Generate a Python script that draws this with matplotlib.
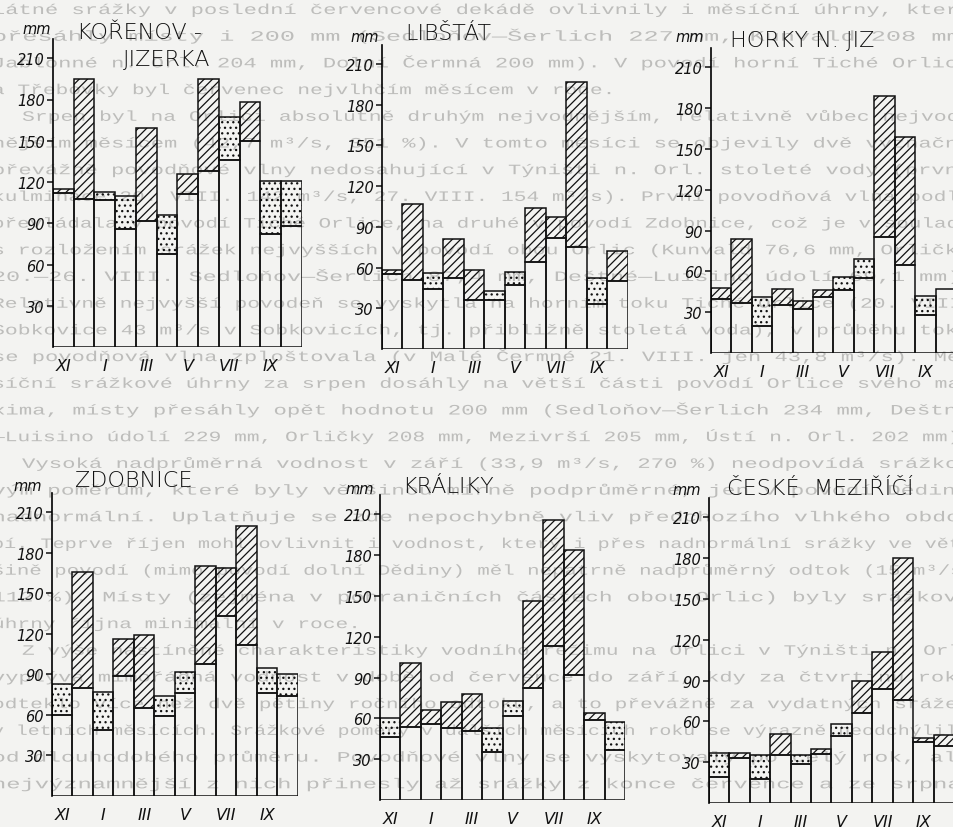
import matplotlib
matplotlib.use("Agg")
import matplotlib.pyplot as plt
from matplotlib.textpath import TextPath
from matplotlib.patches import PathPatch
from matplotlib.font_manager import FontProperties
from matplotlib.transforms import Affine2D

W, H = 954, 828

# monthly totals (mm), hydrological year XI..X
months = ["XI", "XII", "I", "II", "III", "IV", "V", "VI", "VII", "VIII", "IX", "X"]
shown_months = ["XI", "I", "III", "V", "VII", "IX"]

koren_normal = [112, 108, 113, 110, 92, 96, 111, 128, 167, 150, 121, 121]
koren_actual = [115, 195, 107, 86, 159, 68, 126, 195, 136, 178, 82, 88]

libstat_normal = [55, 51, 56, 52, 36, 43, 57, 64, 82, 75, 52, 50]
libstat_actual = [58, 107, 44, 81, 58, 36, 47, 104, 97, 197, 33, 72]

horky_normal = [40, 37, 41, 35, 32, 41, 56, 69, 85, 65, 42, 47]
horky_actual = [48, 84, 20, 47, 38, 46, 46, 55, 189, 159, 28, 47]

zdob_normal = [83, 80, 77, 89, 65, 74, 92, 98, 133, 112, 95, 90]
zdob_actual = [60, 166, 49, 116, 119, 59, 76, 170, 169, 200, 76, 74]

kral_normal = [60, 54, 56, 53, 51, 53, 73, 82, 113, 92, 59, 57]
kral_actual = [46, 101, 66, 72, 78, 35, 62, 146, 206, 184, 64, 37]

ceske_normal = [37, 33, 35, 35, 35, 36, 58, 66, 84, 76, 45, 42]
ceske_actual = [19, 37, 18, 51, 29, 40, 49, 90, 111, 180, 48, 50]

yticks = [30, 60, 90, 120, 150, 180, 210]

# page text showing through from the other side of the sheet
page_lines = [
    "látné srážky v poslední červencové dekádě ovlivnily i měsíční úhrny, které",
    "přesáhly místy i 200 mm (Sedloňov—Šerlich 227 mm, Kunvald 208 mm,",
    "Jablonné n. Orl. 204 mm, Dolní Čermná 200 mm). V povodí horní Tiché Orlice",
    "a Třebovky byl červenec nejvlhčím měsícem v roce.",
    "   Srpen byl na Orlici absolutně druhým nejvodnějším, relativně vůbec nejvod-",
    "nějším měsícem (42,7 m³/s, 351 %). V tomto měsíci se objevily dvě význačné",
    "převážně povodňové vlny nedosahující v Týništi n. Orl. stoleté vody (první",
    "kulminace 20. VIII. 142 m³/s, 27. VIII. 154 m³/s). První povodňová vlna podle",
    "převládala v povodí Tiché Orlice, na druhé v povodí Zdobnice, což je v souladu",
    "s rozložením srážek nejvyšších v povodí obou Orlic (Kunvald 76,6 mm, Orličky",
    "20.—26. VIII. Sedloňov—Šerlich 87,4 mm, Deštné—Luisino údolí 69,1 mm).",
    "Relativně nejvyšší povodeň se vyskytla na horním toku Tiché Orlice (20. VIII.",
    "Sobkovice 43 m³/s v Sobkovicích, tj. přibližně stoletá voda), v průběhu toku",
    "se povodňová vlna zploštovala (v Malé Čermné 21. VIII. jen 43,8 m³/s). Mě-",
    "síční srážkové úhrny za srpen dosáhly na větší části povodí Orlice svého ma-",
    "xima, místy přesáhly opět hodnotu 200 mm (Sedloňov—Šerlich 234 mm, Deštné",
    "—Luisino údolí 229 mm, Orličky 208 mm, Mezivrší 205 mm, Ústí n. Orl. 202 mm).",
    "   Vysoká nadprůměrná vodnost v září (33,9 m³/s, 270 %) neodpovídá srážko-",
    "vým poměrům, které byly většinou mírně podprůměrné, jen v povodí Dědiny",
    "nadnormální. Uplatňuje se zde nepochybně vliv předchozího vlhkého obdo-",
    "bí. Teprve říjen mohl ovlivnit i vodnost, který i přes nadnormální srážky ve vět-",
    "šině povodí (mimo povodí dolní Dědiny) měl nepatrně nadprůměrný odtok (15 m³/s,",
    "112 %). Místy (zejména v pohraničních částech obou Orlic) byly srážkové",
    "úhrny října minimální v roce.",
    "   Z výše nastíněné charakteristiky vodního režimu na Orlici v Týništi n. Orl.",
    "vyplývá mimořádná vodnost v době od července do září, kdy za čtvrtinu roku",
    "odteklo více než dvě pětiny ročního odtoku, a to převážně za vydatných srážek",
    "v letních měsících. Srážkové poměry v dalších měsících roku se výrazně neodchýlily",
    "od dlouhodobého průměru. Povodňové vlny se vyskytovaly po celý rok, ale",
    "nejvýznamnější z nich přinesly až srážky z konce července a ze srpna.",
]
short_lines = {3, 23}

fig = plt.figure(figsize=(W / 100, H / 100), dpi=100, facecolor="#f3f3f1")

# background sheet with the faint text
bg = fig.add_axes([0, 0, 1, 1], zorder=-5)
bg.set_xlim(0, W)
bg.set_ylim(0, H)
bg.axis("off")
fp = FontProperties(family="Liberation Mono")
left, right = -8, 968
for i, line in enumerate(page_lines):
    indent = 0
    if line.startswith("   "):
        indent = 30
        line = line.strip()
    tp = TextPath((0, 0), line, size=20, prop=fp)
    w = tp.get_extents().width
    sx = 1.06 if i in short_lines else (right - left - indent) / w
    y = H - (10 + 26.7 * i + 5)
    tr = Affine2D().scale(sx, 0.72).translate(left + indent, y) + bg.transData
    bg.add_patch(PathPatch(tp, transform=tr, facecolor="#bdbdbb", edgecolor="none"))


def station(x0, x1, base, scale, normal, actual):
    ax = fig.add_axes([x0 / W, 1 - base / H, (x1 - x0) / W, 224 * scale / H])
    ax.set_xlim(0, 12)
    ax.set_ylim(0, 224)
    ax.patch.set_visible(False)
    for s in ["top", "right", "bottom"]:
        ax.spines[s].set_visible(False)
    ax.spines["left"].set_linewidth(1.2)
    ax.set_xticks([])
    ax.set_yticks(yticks)
    ax.tick_params(axis="y", direction="out", length=4, width=1.1, pad=2,
                   labelsize=10.5, colors="#111111")
    for t in ax.get_yticklabels():
        t.set_fontstyle("italic")

    x = list(range(12))
    low = [min(n, a) for n, a in zip(normal, actual)]
    ax.bar(x, low, width=1, align="edge", facecolor="none",
           edgecolor="#111111", linewidth=1.1)
    for i, (n, a) in enumerate(zip(normal, actual)):
        if a > n:
            ax.bar(i, a - n, bottom=n, width=1, align="edge", facecolor="none",
                   edgecolor="#111111", linewidth=1.1, hatch="////")
        elif a < n:
            ax.bar(i, n - a, bottom=a, width=1, align="edge", facecolor="none",
                   edgecolor="#111111", linewidth=1.1, hatch="...")

    for i, m in enumerate(months):
        if m in shown_months:
            ax.text(i + 0.5, -19 / scale, m, ha="center", va="center",
                    fontsize=11.5, style="italic", color="#111111", clip_on=False)
    return ax


def label(x, y, s, **kw):
    fig.text(x / W, 1 - y / H, s, va="center", color="#111111", **kw)


plt.rcParams["hatch.linewidth"] = 0.9

station(53, 302, 348, 1.375, koren_normal, koren_actual)
station(382, 628, 350, 1.357, libstat_normal, libstat_actual)
station(711, 956, 354, 1.361, horky_normal, horky_actual)
station(52, 298, 797, 1.352, zdob_normal, zdob_actual)
station(380, 625, 801, 1.361, kral_normal, kral_actual)
station(709, 954, 804, 1.361, ceske_normal, ceske_actual)

title_kw = dict(fontsize=16, fontweight="light")
mm_kw = dict(fontsize=10.5, style="italic")

label(77, 33, "KOŘENOV -", **title_kw)
label(123, 60, "JIZERKA", **title_kw)
label(405, 34, "LIBŠTÁT", **title_kw)
label(730, 41, "HORKY N. JIZ", **title_kw)
label(75, 481, "ZDOBNICE", **title_kw)
label(402, 487, "KRÁLIKY", **title_kw)
label(727, 489, "ČESKÉ  MEZIŘÍČÍ", **title_kw)

label(22, 29, "mm", **mm_kw)
label(350, 37, "mm", **mm_kw)
label(675, 37, "mm", **mm_kw)
label(13, 487, "mm", **mm_kw)
label(345, 490, "mm", **mm_kw)
label(672, 491, "mm", **mm_kw)

fig.savefig("out.png", dpi=100, facecolor=fig.get_facecolor())
